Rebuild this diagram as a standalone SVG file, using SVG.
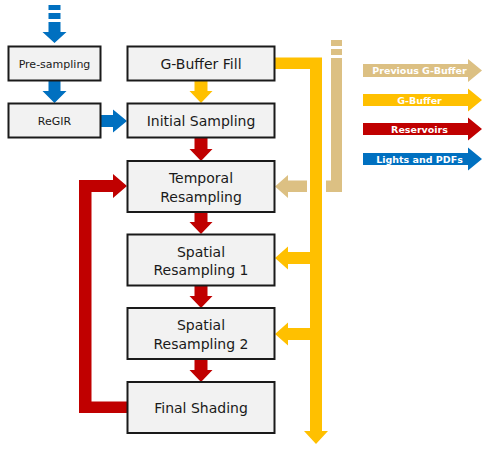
<svg xmlns="http://www.w3.org/2000/svg" width="487" height="451" viewBox="0 0 487 451">
<style>
.box{fill:#F2F2F2;stroke:#1a1a1a;stroke-width:2}
.t{font-family:"DejaVu Sans",Verdana,sans-serif;font-size:14px;fill:#1a1a1a;text-anchor:middle}
.ts{font-family:"DejaVu Sans",Verdana,sans-serif;font-size:11px;fill:#1a1a1a;text-anchor:middle}
.lg{font-family:"DejaVu Sans",Verdana,sans-serif;font-size:9.5px;font-weight:bold;fill:#ffffff;text-anchor:middle}
.blue{fill:#0070C0}
.yel{fill:#FFC000}
.red{fill:#C00000}
.tan{fill:#DCC083}
</style>
<rect width="487" height="451" fill="#ffffff"/>
<g id="connectors">
  <rect class="blue" x="48.5" y="5" width="12" height="5"/>
  <rect class="blue" x="48.5" y="13" width="12" height="6"/>
  <polygon class="blue" points="48.5,22 60.5,22 60.5,32 66.5,32 54.5,43 42.5,32 48.5,32"/>
  <polygon class="blue" points="48.5,81 60.5,81 60.5,91 66.5,91 54.5,103 42.5,91 48.5,91"/>
  <polygon class="blue" points="101,115 113,115 113,109.5 127,121 113,132.5 113,127 101,127"/>
  <polygon class="yel" points="194.5,81 207.5,81 207.5,91 212.5,91 201,103 189.5,91 194.5,91"/>
  <polygon class="red" points="194.5,138 207.5,138 207.5,149 212.5,149 201,161 189.5,149 194.5,149"/>
  <polygon class="red" points="194.5,212 207.5,212 207.5,222 212.5,222 201,234 189.5,222 194.5,222"/>
  <polygon class="red" points="194.5,286 207.5,286 207.5,296 212.5,296 201,308 189.5,296 194.5,296"/>
  <polygon class="red" points="194.5,359 207.5,359 207.5,370 212.5,370 201,382 189.5,370 194.5,370"/>
  <polygon class="red" points="79,180 113,180 113,174 127,186 113,198 113,192 91.5,192 91.5,401.5 127,401.5 127,413 79,413"/>
  <polygon class="yel" points="275,57.5 322,57.5 322,431 328,431 316,444 304,431 310,431 310,69 275,69"/>
  <polygon class="yel" points="310,252 288,252 288,246.5 275,258 288,269.5 288,264 310,264"/>
  <polygon class="yel" points="310,328 288,328 288,322.5 275,334 288,345.5 288,340 310,340"/>
  <rect class="tan" x="331" y="40" width="11" height="6"/>
  <rect class="tan" x="331" y="49" width="11" height="6"/>
  <polygon class="tan" points="331,58 342,58 342,192 326,192 326,180.5 331,180.5"/>
  <polygon class="tan" points="307,180.5 288,180.5 288,175 275,186.5 288,198 288,192 307,192"/>
</g>
<g id="legend">
  <polygon class="tan" points="363,64 468,64 468,59 482,70.5 468,82 468,77 363,77"/>
  <text class="lg" x="419.5" y="74">Previous G-Buffer</text>
  <polygon class="yel" points="363,94 468,94 468,88.5 482,100 468,111.5 468,106 363,106"/>
  <text class="lg" x="419.5" y="103.5">G-Buffer</text>
  <polygon class="red" points="363,123 468,123 468,117.5 482,129 468,140.5 468,135 363,135"/>
  <text class="lg" x="419.5" y="132.5">Reservoirs</text>
  <polygon class="blue" points="363,153 468,153 468,147.5 482,159 468,170.5 468,165 363,165"/>
  <text class="lg" x="419.5" y="162.5">Lights and PDFs</text>
</g>
<g id="presampling">
  <rect class="box" x="8.5" y="46.5" width="92" height="34"/>
  <text class="ts" x="54.5" y="67.5">Pre-sampling</text>
</g>
<g id="regir">
  <rect class="box" x="8.5" y="103.5" width="92" height="34"/>
  <text class="ts" x="54.5" y="124.5">ReGIR</text>
</g>
<g id="gbufferfill">
  <rect class="box" x="127.5" y="46.5" width="147" height="34"/>
  <text class="t" x="201" y="68.5">G-Buffer Fill</text>
</g>
<g id="initialsampling">
  <rect class="box" x="127.5" y="103.5" width="147" height="34"/>
  <text class="t" x="201" y="125.5">Initial Sampling</text>
</g>
<g id="temporal">
  <rect class="box" x="127.5" y="161" width="147" height="51"/>
  <text class="t" x="201" y="183">Temporal</text>
  <text class="t" x="201" y="201.5">Resampling</text>
</g>
<g id="spatial1">
  <rect class="box" x="127.5" y="234.5" width="147" height="51"/>
  <text class="t" x="201" y="256.5">Spatial</text>
  <text class="t" x="201" y="275">Resampling 1</text>
</g>
<g id="spatial2">
  <rect class="box" x="127.5" y="308" width="147" height="51"/>
  <text class="t" x="201" y="330">Spatial</text>
  <text class="t" x="201" y="349">Resampling 2</text>
</g>
<g id="finalshading">
  <rect class="box" x="127.5" y="382" width="147" height="51"/>
  <text class="t" x="201" y="412.5">Final Shading</text>
</g>
</svg>
